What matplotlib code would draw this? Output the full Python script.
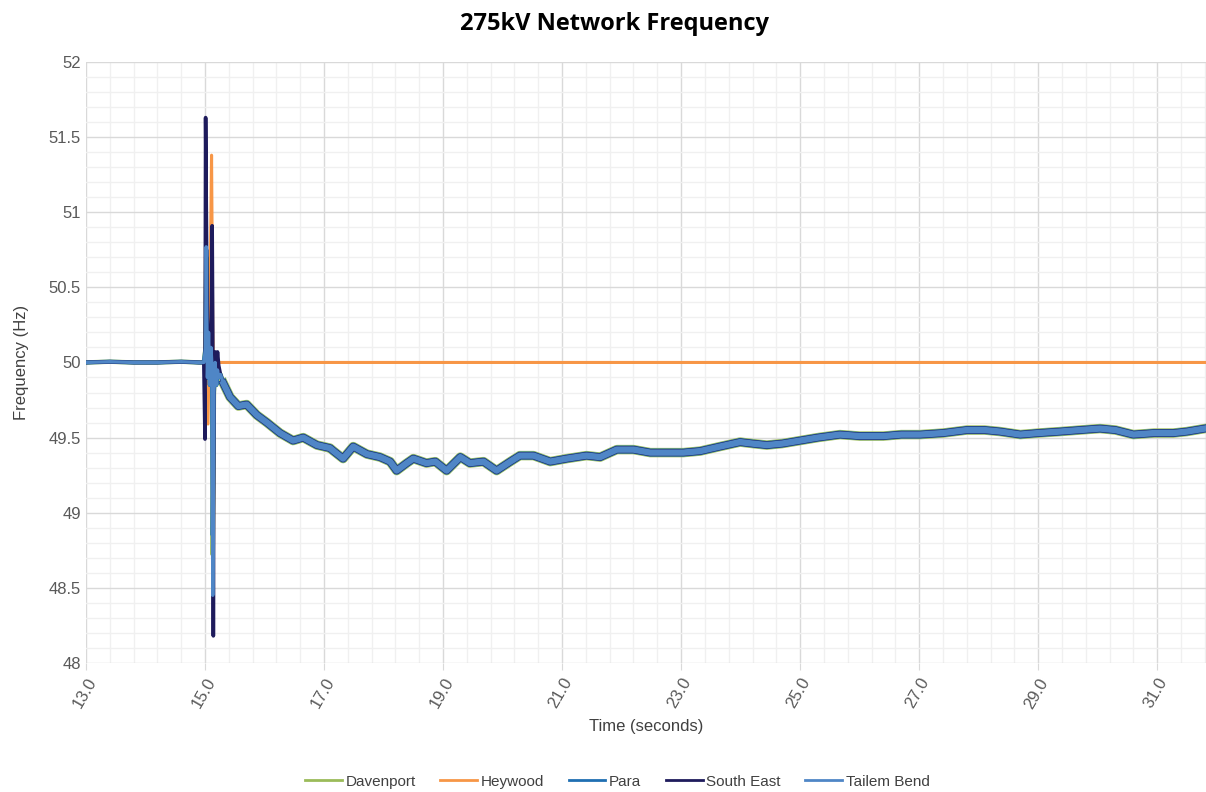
# 275kV network frequency chart
import numpy as np
import matplotlib
matplotlib.use("Agg")
from matplotlib import pyplot as plt
from matplotlib.ticker import FuncFormatter

# datos
t_pre = [13.0, 13.4, 13.8, 14.2, 14.6, 14.9]
f_pre = [50.0, 50.005, 50.0, 50.0, 50.005, 50.0]

# tramo del evento (por estacion)
t_dav = [14.98, 15.01, 15.02, 15.04, 15.06, 15.08, 15.10, 15.12, 15.13, 15.15, 15.17, 15.19, 15.21, 15.23, 15.26]
f_dav = [50.0, 50.1, 50.7, 49.9, 50.2, 49.85, 50.1, 49.95, 48.72, 49.8, 50.0, 49.85, 49.95, 49.9, 49.92]

t_hey = [14.98, 15.02, 15.05, 15.08, 15.11, 15.13, 15.15, 15.18, 15.21, 15.24, 31.8]
f_hey = [50.0, 50.1, 49.59, 50.3, 51.38, 50.2, 49.9, 50.05, 50.0, 50.0, 50.0]

t_para = [14.98, 15.01, 15.02, 15.04, 15.06, 15.08, 15.10, 15.12, 15.13, 15.15, 15.17, 15.19, 15.21, 15.23, 15.26]
f_para = [50.0, 50.1, 50.75, 49.9, 50.2, 49.85, 50.1, 49.95, 48.85, 49.8, 50.0, 49.85, 49.95, 49.9, 49.92]

t_se = [14.98, 15.00, 15.01, 15.02, 15.03, 15.04, 15.06, 15.08, 15.10, 15.12, 15.13, 15.14, 15.15, 15.17, 15.19, 15.21, 15.23, 15.26]
f_se = [50.0, 49.49, 51.63, 51.1, 50.6, 50.3, 50.1, 49.9, 50.0, 50.91, 50.2, 48.18, 49.9, 50.07, 49.95, 50.07, 49.98, 49.92]

t_tb = [14.98, 15.01, 15.02, 15.04, 15.06, 15.08, 15.10, 15.12, 15.13, 15.15, 15.17, 15.19, 15.21, 15.23, 15.26]
f_tb = [50.0, 50.1, 50.77, 49.9, 50.2, 49.85, 50.1, 49.95, 48.45, 49.8, 50.0, 49.85, 49.95, 49.9, 49.92]

# recuperacion despues del evento (comun a las estaciones de SA)
t_post = [15.31, 15.42, 15.56, 15.70, 15.87, 16.04, 16.26, 16.48, 16.65, 16.88,
          17.10, 17.16, 17.32, 17.49, 17.72, 17.94, 18.11, 18.22, 18.39, 18.50,
          18.72, 18.87, 19.06, 19.29, 19.45, 19.68, 19.90, 20.13, 20.29, 20.52,
          20.80, 21.08, 21.41, 21.64, 21.92, 22.20, 22.48, 22.76, 23.04, 23.32,
          23.65, 23.99, 24.20, 24.44, 24.70, 25.00, 25.30, 25.67, 26.00, 26.40,
          26.70, 27.02, 27.40, 27.80, 28.10, 28.36, 28.70, 29.00, 29.37, 29.70,
          30.04, 30.30, 30.60, 30.95, 31.27, 31.50, 31.80]
f_post = [49.86, 49.77, 49.71, 49.72, 49.65, 49.60, 49.53, 49.48, 49.50, 49.45,
          49.43, 49.41, 49.36, 49.44, 49.39, 49.37, 49.34, 49.28, 49.33, 49.36,
          49.33, 49.34, 49.28, 49.37, 49.33, 49.34, 49.28, 49.34, 49.38, 49.38,
          49.34, 49.36, 49.38, 49.37, 49.42, 49.42, 49.40, 49.40, 49.40, 49.41,
          49.44, 49.47, 49.46, 49.45, 49.46, 49.48, 49.50, 49.52, 49.51, 49.51,
          49.52, 49.52, 49.53, 49.55, 49.55, 49.54, 49.52, 49.53, 49.54, 49.55,
          49.56, 49.55, 49.52, 49.53, 49.53, 49.54, 49.56]

nombres = ["Davenport", "Heywood", "Para", "South East", "Tailem Bend"]
colores = ["#9BBB59", "#F79646", "#1F6FB2", "#1E1B5C", "#4F86C6"]

# (x, y, grosor del tramo del evento, grosor de la banda ruidosa)
series = [
    (t_pre + t_dav + t_post, f_pre + f_dav + f_post, 3.2, 6.8),
    (t_pre + t_hey, f_pre + f_hey, 2.2, 0),
    (t_pre + t_para + t_post, f_pre + f_para + f_post, 3.0, 5.8),
    (t_pre + t_se + t_post, f_pre + f_se + f_post, 2.6, 5.2),
    (t_pre + t_tb + t_post, f_pre + f_tb + f_post, 2.4, 4.6),
]

plt.rcParams['font.family'] = ['Liberation Sans', 'DejaVu Sans']

fig = plt.figure(figsize=(12.06, 7.92), dpi=100)
ax = fig.add_axes([0.0713, 0.163, 0.9287, 0.7587])

for (x, y, lw, lw_banda), nom, col in zip(series, nombres, colores):
    ax.plot(x, y, color=col, lw=lw, label=nom, solid_joinstyle="round")
    if lw_banda > 0:
        ax.plot(t_post, f_post, color=col, lw=lw_banda, solid_joinstyle="round")

ax.set_xlim(13.0, 31.82)
ax.set_ylim(48, 52)
ax.set_xticks(np.arange(13.0, 31.9, 2.0))
ax.set_xticks(np.arange(13.0, 31.9, 0.4), minor=True)
ax.set_yticks(np.arange(48.0, 52.01, 0.5))
ax.set_yticks(np.arange(48.0, 52.01, 0.1), minor=True)
ax.xaxis.set_major_formatter(FuncFormatter(lambda v, p: "{:.1f}".format(v)))
ax.yaxis.set_major_formatter(FuncFormatter(lambda v, p: "{:g}".format(v)))

ax.grid(which="major", color="#d9d9d9", lw=1.0)
ax.grid(which="minor", color="#f0f0f0", lw=1.0)
ax.set_axisbelow(True)
for s in ax.spines.values():
    s.set_visible(False)
ax.tick_params(which="both", length=0, colors="#595959", labelsize=12)
ax.tick_params(axis="x", which="major", length=5, color="#d9d9d9", pad=4)
plt.setp(ax.get_xticklabels(), rotation=60, ha="right", rotation_mode="anchor")

ax.set_xlabel("Time (seconds)", fontsize=12, color="#404040", labelpad=6)
ax.set_ylabel("Frequency (Hz)", fontsize=12, color="#404040", labelpad=14)

fig.suptitle("275kV Network Frequency", x=0.51, y=0.985, fontsize=17,
             fontweight="bold", family="Open Sans")

leg = fig.legend(loc="center", bbox_to_anchor=(0.512, 0.013), ncol=5, frameon=False,
                 fontsize=11, handlelength=2.4, handletextpad=0.25, columnspacing=1.6,
                 labelcolor="#404040")
for h in leg.get_lines():
    h.set_linewidth(2.0)

plt.savefig("out.png", dpi=100)
